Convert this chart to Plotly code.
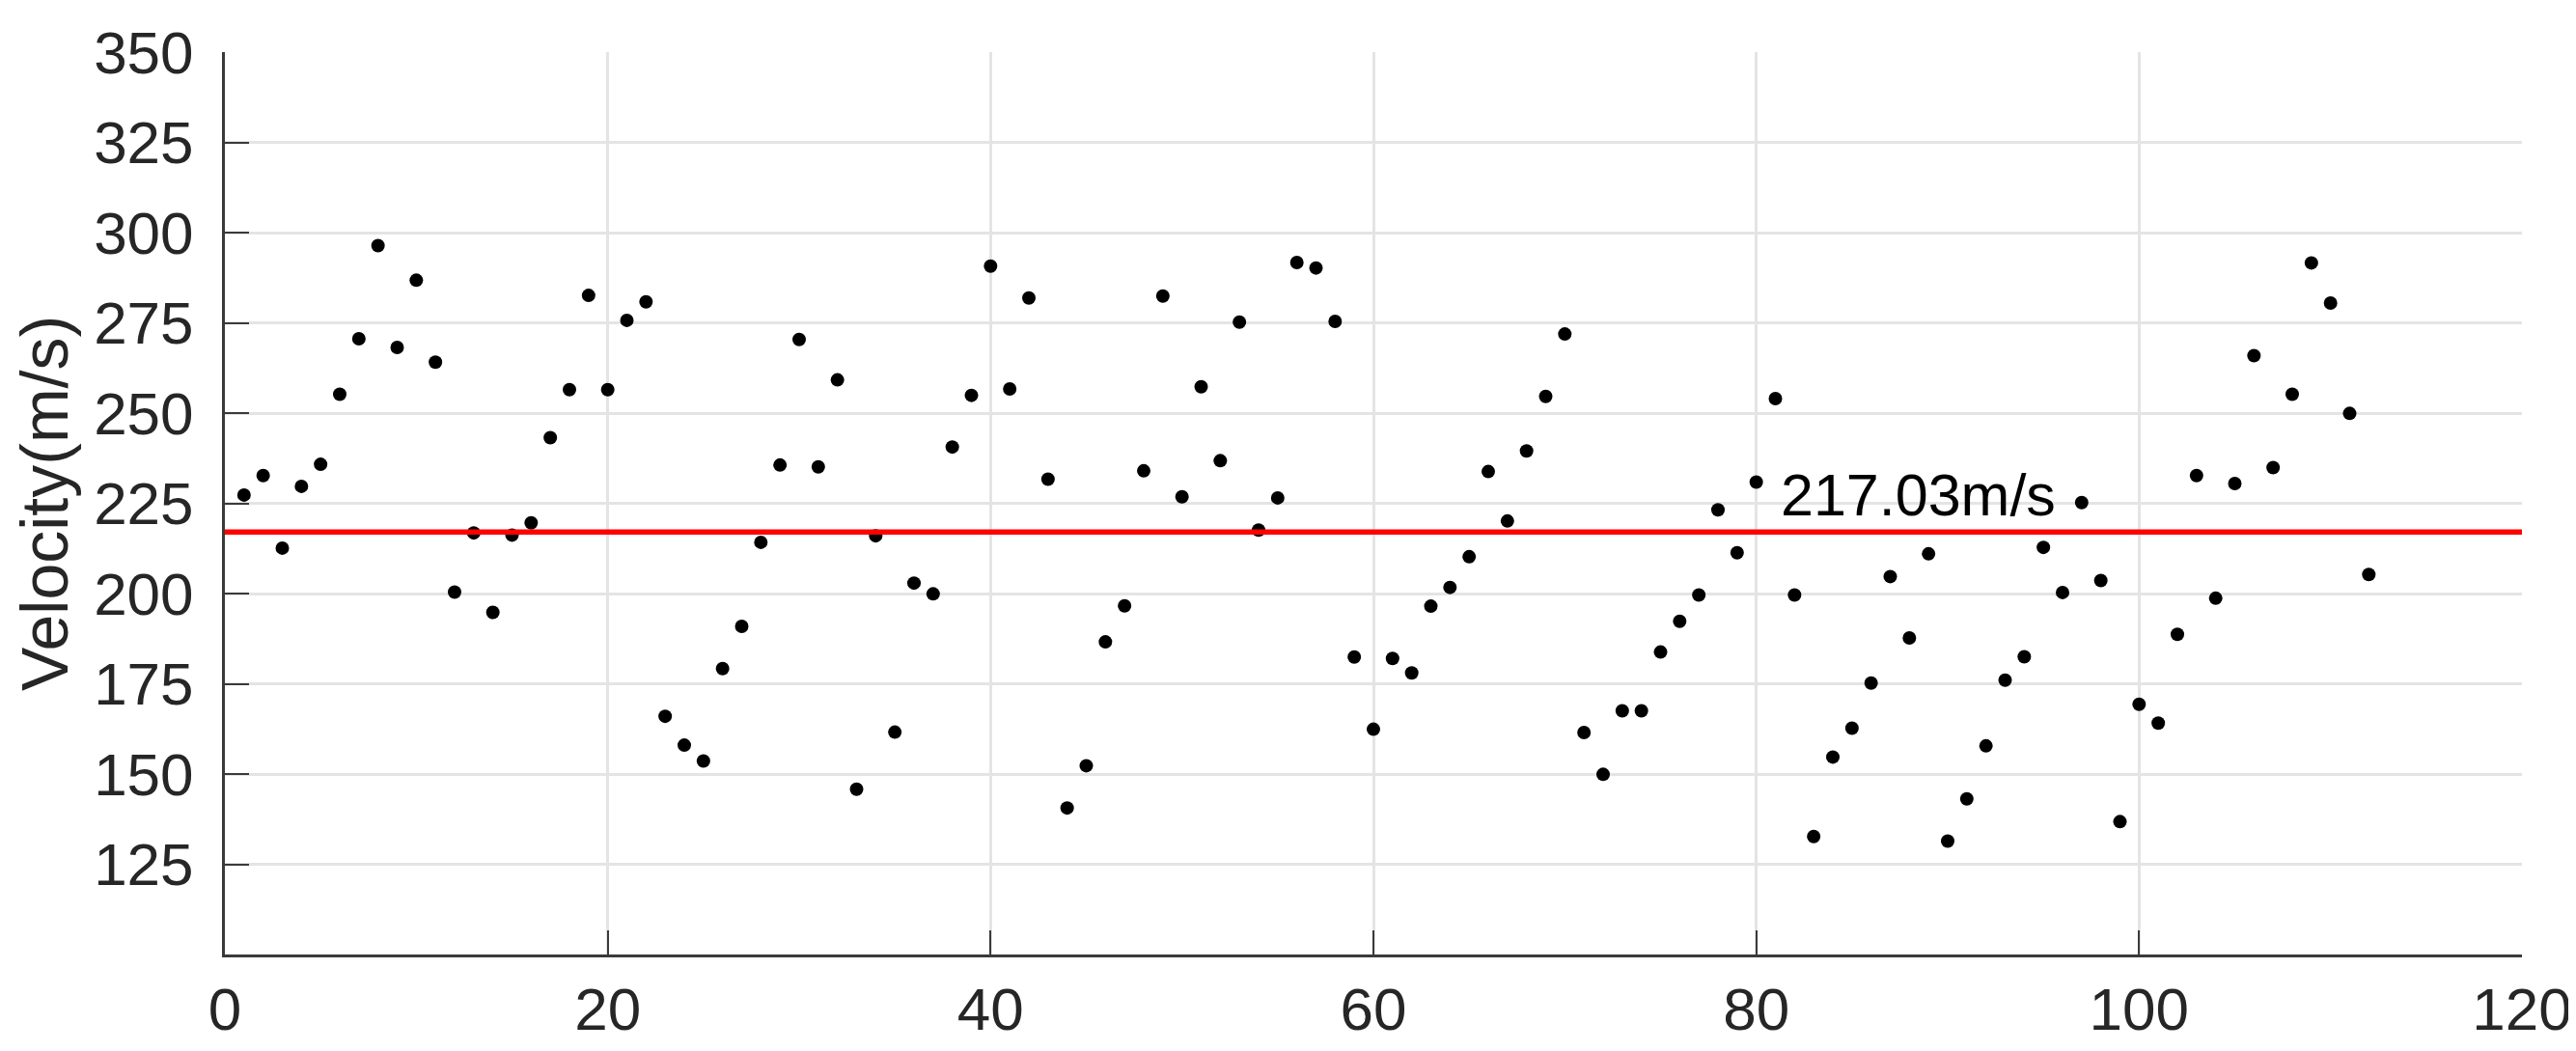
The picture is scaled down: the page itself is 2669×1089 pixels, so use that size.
import plotly.graph_objects as go

# sample index and measured velocity (m/s)
muestras = list(range(1, 113))
velocidad = [
    227.3, 232.7, 212.6, 229.7, 235.8, 255.2, 270.6, 296.4, 268.2, 286.8,
    264.1, 200.4, 216.8, 194.8, 216.2, 219.6, 243.2, 256.5, 282.6, 256.5,
    275.7, 280.8, 166.0, 158.0, 153.6, 179.2, 190.9, 214.2, 235.6, 270.4,
    235.1, 259.2, 145.8, 216.0, 161.6, 202.9, 199.9, 240.6, 254.9, 290.7,
    256.7, 281.9, 231.7, 140.6, 152.3, 186.6, 196.6, 234.0, 282.4, 226.8,
    257.3, 236.8, 275.2, 217.6, 226.5, 291.7, 290.2, 275.4, 182.4, 162.4,
    182.0, 178.0, 196.5, 201.7, 210.2, 233.8, 220.1, 239.5, 254.6, 271.9,
    161.5, 149.9, 167.5, 167.5, 183.8, 192.3, 199.6, 223.2, 211.3, 230.9,
    254.0, 199.6, 132.7, 154.7, 162.7, 175.2, 204.7, 187.7, 211.0, 131.4,
    143.1, 157.8, 176.0, 182.5, 212.8, 200.3, 225.2, 203.6, 136.8, 169.3,
    164.1, 188.7, 232.7, 198.7, 230.5, 265.9, 234.9, 255.2, 291.6, 280.5,
    249.9, 205.3,
]
velocidad_media = 217.03
etiqueta_media = '217.03m/s'

x_ticks = [0, 20, 40, 60, 80, 100, 120]
y_ticks = [125, 150, 175, 200, 225, 250, 275, 300, 325, 350]

FUENTE = 'Liberation Sans, Arial, Helvetica, sans-serif'
COLOR_EJE = '#3a3a3a'
COLOR_GRID = '#e4e4e4'

fig = go.Figure()

fig.add_trace(go.Scatter(
    x=muestras, y=velocidad,
    mode='markers',
    marker=dict(color='black', size=14),
    showlegend=False,
))

# mean line across the whole x range
fig.add_trace(go.Scatter(
    x=[x_ticks[0], x_ticks[-1]], y=[velocidad_media, velocidad_media],
    mode='lines',
    line=dict(color='#ff0000', width=5.5),
    showlegend=False,
))

fig.add_annotation(
    x=81.57, y=velocidad_media,
    text=etiqueta_media,
    showarrow=False,
    xanchor='left', yanchor='bottom',
    xshift=-8, yshift=2,
    font=dict(family=FUENTE, size=61, color='black'),
)

eje_comun = dict(
    showline=True, linecolor=COLOR_EJE, linewidth=3,
    ticks='inside', ticklen=25, tickwidth=2, tickcolor=COLOR_EJE,
    showgrid=True, gridcolor=COLOR_GRID, gridwidth=2.5,
    zeroline=False, mirror=False,
    tickfont=dict(family=FUENTE, size=62, color='#262626'),
)

fig.update_xaxes(
    range=[0, 120], tickvals=x_ticks,
    ticklabelstandoff=1,
    **eje_comun
)
fig.update_yaxes(
    range=[100, 350], tickvals=y_ticks,
    ticklabelstandoff=17,
    title=dict(text='Velocity(m/s)', standoff=14,
               font=dict(family=FUENTE, size=68, color='#262626')),
    **eje_comun
)

fig.update_layout(
    width=2669, height=1089,
    margin=dict(l=225, r=61, t=42, b=108),
    plot_bgcolor='white', paper_bgcolor='white',
    font=dict(family=FUENTE),
)

fig.write_html('out.html')
